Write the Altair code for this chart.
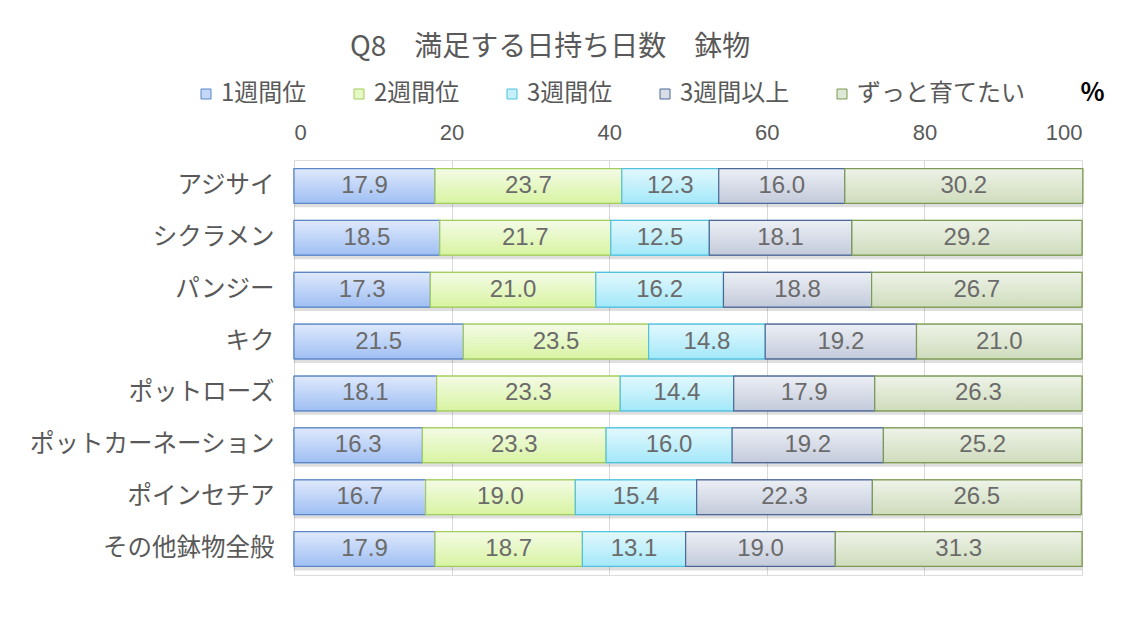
import altair as alt
import pandas as pd

categories = ["アジサイ", "シクラメン", "パンジー", "キク", "ポットローズ",
              "ポットカーネーション", "ポインセチア", "その他鉢物全般"]
series = ["1週間位", "2週間位", "3週間位", "3週間以上", "ずっと育てたい"]
values = {
    "1週間位":     [17.9, 18.5, 17.3, 21.5, 18.1, 16.3, 16.7, 17.9],
    "2週間位":     [23.7, 21.7, 21.0, 23.5, 23.3, 23.3, 19.0, 18.7],
    "3週間位":     [12.3, 12.5, 16.2, 14.8, 14.4, 16.0, 15.4, 13.1],
    "3週間以上":   [16.0, 18.1, 18.8, 19.2, 17.9, 19.2, 22.3, 19.0],
    "ずっと育てたい": [30.2, 29.2, 26.7, 21.0, 26.3, 25.2, 26.5, 31.3],
}
x_ticks = [0, 20, 40, 60, 80, 100]

top_colors = ["#dfe9fc", "#f4fbe6", "#e3f8fd", "#eceff5", "#eef3e8"]
bottom_colors = ["#9fbff3", "#d8f4a2", "#a3e8f9", "#c3cada", "#cfdcbc"]
mid_colors = ["#c4d7f8", "#e6f8c4", "#c6f0fb", "#d8dde8", "#dfe8d4"]
stroke_colors = ["#5b87c8", "#a2cd5e", "#50c2df", "#4c6896", "#7e9a55"]

rows = []
for ci, cat in enumerate(categories):
    start = 0.0
    for si, s in enumerate(series):
        v = values[s][ci]
        rows.append({"cat": cat, "series": s, "order": si, "value": v,
                     "start": start, "end": start + v, "mid": start + v / 2,
                     "label": f"{v:.1f}"})
        start += v
df = pd.DataFrame(rows)

JP = "Noto Sans CJK JP"
NUM = "Liberation Sans"
GRAY = "#595959"

x_enc = alt.X("start:Q", scale=alt.Scale(domain=[0, 100], nice=False),
              axis=alt.Axis(orient="top", values=x_ticks, grid=True, gridColor="#d9d9d9",
                            domain=False, ticks=False, labelFontSize=22, labelFont=NUM,
                            labelColor=GRAY, labelPadding=16, title="%",
                            titleFont=JP, titleFontSize=25, titleFontWeight="bold",
                            titleColor="#000000", titleAngle=0, titleAlign="left",
                            titleBaseline="middle", titleX=786, titleY=-68))
y_enc = alt.Y("cat:N", sort=categories,
              scale=alt.Scale(paddingInner=0.33, paddingOuter=0.165),
              axis=alt.Axis(title=None, ticks=False, domain=True, domainColor="#d9d9d9",
                            grid=False, labelFontSize=24.5, labelFont=JP, labelLimit=400,
                            labelColor=GRAY, labelPadding=20))

base = alt.Chart(df)

shadow = base.mark_bar(color="#000000", opacity=0.13, yOffset=4).encode(
    x=x_enc, x2="end:Q", y=y_enc)

leg = dict(title=None, orient="none", direction="horizontal",
           legendX=-100, legendY=-78, symbolType="square",
           symbolSize=100, symbolStrokeWidth=1,
           labelFont=JP, labelFontSize=24, labelColor=GRAY,
           labelOffset=3, columnPadding=40, labelLimit=300)

legend_layer = base.mark_bar(strokeWidth=1).encode(
    x=x_enc, x2="end:Q", y=y_enc,
    fill=alt.Fill("series:N", scale=alt.Scale(domain=series, range=mid_colors),
                  legend=alt.Legend(**leg)),
    stroke=alt.Stroke("series:N", scale=alt.Scale(domain=series, range=stroke_colors),
                      legend=alt.Legend(**leg)),
)

grad_layers = []
for si, s in enumerate(series):
    g = alt.Gradient(gradient="linear",
                     stops=[alt.GradientStop(color=top_colors[si], offset=0),
                            alt.GradientStop(color=bottom_colors[si], offset=1)],
                     x1=0, x2=0, y1=0, y2=1)
    layer = base.transform_filter(alt.datum.series == s).mark_bar(
        fill=g, stroke=stroke_colors[si], strokeWidth=1.2).encode(
        x=x_enc, x2="end:Q", y=y_enc)
    grad_layers.append(layer)

text = base.mark_text(font=NUM, fontSize=24, color="#6b6b6b", baseline="middle").encode(
    x=alt.X("mid:Q", scale=alt.Scale(domain=[0, 100], nice=False)),
    y=alt.Y("cat:N", sort=categories),
    text="label:N")

chart = alt.layer(shadow, legend_layer, *grad_layers, text).properties(
    width=788, height=415,
    padding={"left": 286, "top": 152, "right": 42, "bottom": 41},
    autosize=alt.AutoSizeParams(type="none"),
    title=alt.TitleParams("Q8　満足する日持ち日数　鉢物", font=JP, fontSize=28,
                          fontWeight="normal", color=GRAY, anchor="start", dx=56,
                          dy=-14, frame="group"),
).configure_view(stroke=None).configure(background="white")

chart.save("out.html", embed_options={"renderer": "svg", "actions": False})
